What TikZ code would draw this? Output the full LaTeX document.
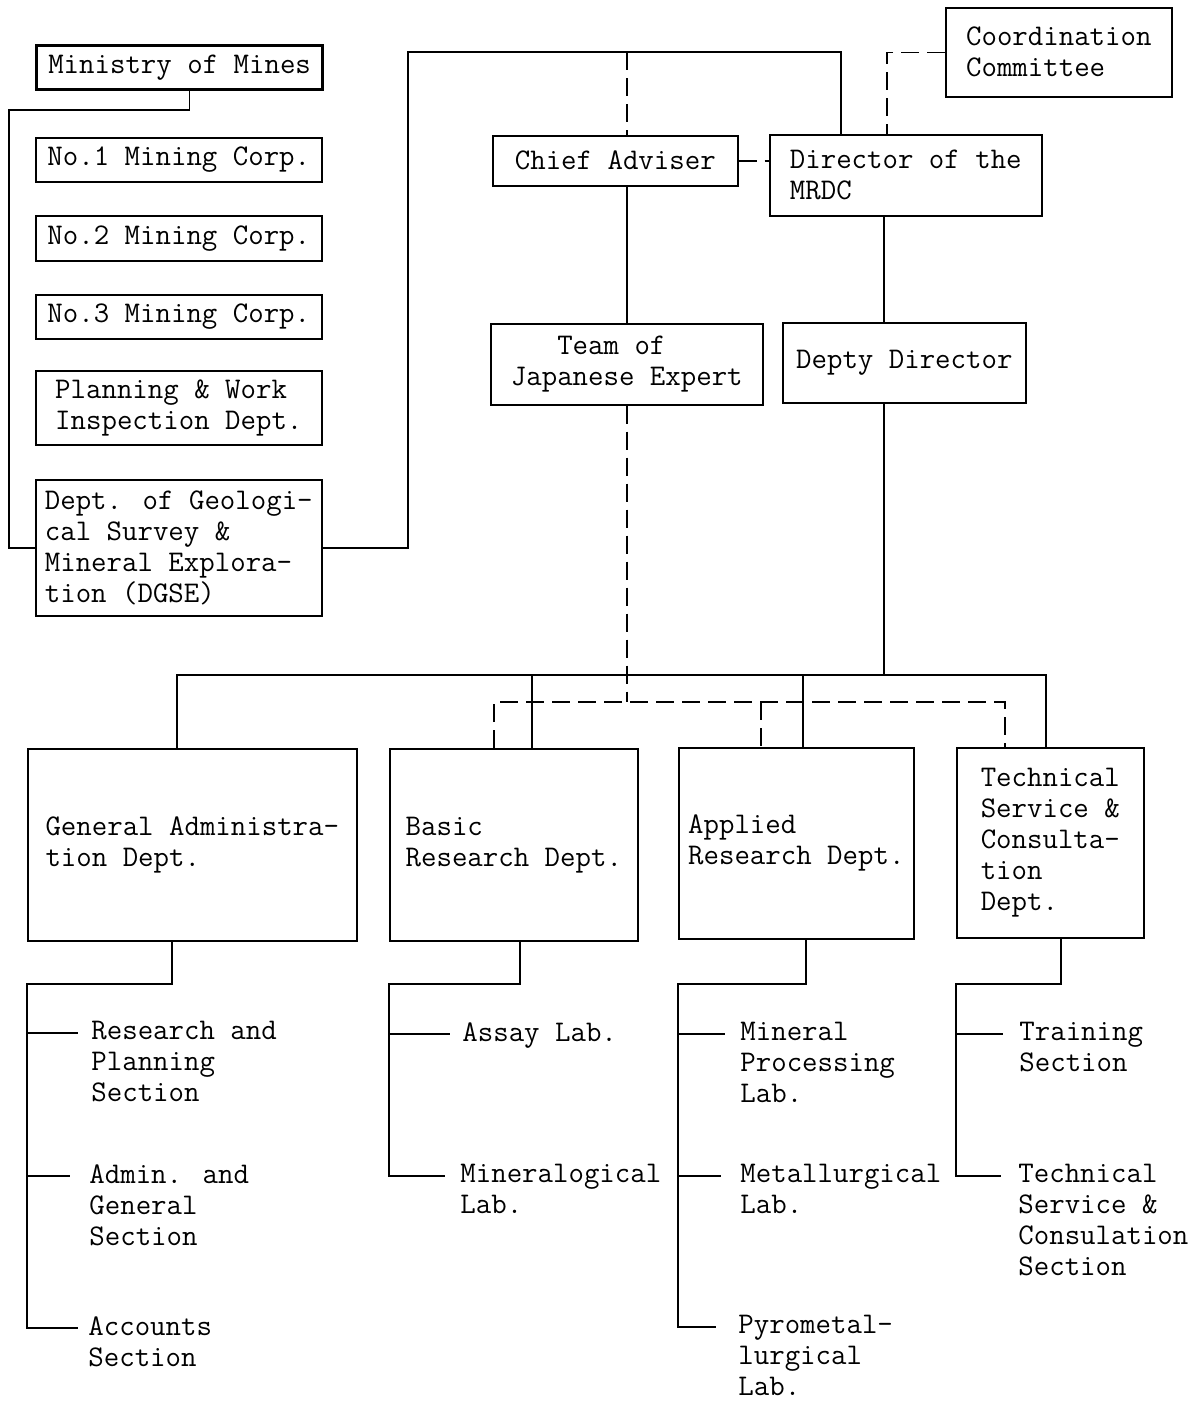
\documentclass[tikz,border=0pt]{standalone}
\usepackage{tikz}

\begin{document}
\begin{tikzpicture}[x=0.5pt,y=-0.5pt,
  every node/.style={font=\fontsize{15}{15.5}\selectfont\ttfamily},
  box/.style={draw, line width=0.8pt, anchor=north west, inner sep=2pt, align=left},
  sect/.style={anchor=north west, inner sep=0pt, align=left},
  link/.style={line width=0.8pt},
  dashline/.style={line width=0.8pt, dash pattern=on 9pt off 4pt}]
  \useasboundingbox (0,0) rectangle (1194,1403);

  % Ministerium
  \node[box, line width=1.6pt, minimum width=143pt, minimum height=22pt] (mines) at (35,44) {Ministry of Mines};
  \node[box, minimum width=143pt, minimum height=22pt] (corp1) at (35,137) {No.1 Mining Corp.};
  \node[box, minimum width=143pt, minimum height=22.5pt] (corp2) at (35,215) {No.2 Mining Corp.};
  \node[box, minimum width=143pt, minimum height=22pt] (corp3) at (35,294) {No.3 Mining Corp.};
  \node[box, minimum width=143pt, minimum height=37pt] (pwid) at (35,370) {Planning \& Work\\Inspection Dept.};
  \node[box, minimum width=143pt, minimum height=68pt] (dgse) at (35,479) {Dept. of Geologi-\\cal Survey \&\\Mineral Explora-\\tion (DGSE)};

  % Leitung
  \node[box, minimum width=122.5pt, minimum height=25pt] (chief) at (492,135) {Chief Adviser};
  \node[box, minimum width=136pt, minimum height=40.5pt] (dir) at (769,134) {Director of the\\MRDC};
  \node[box, minimum width=113pt, minimum height=44.5pt] (coord) at (945,7) {Coordination\\Committee};
  \node[box, minimum width=136pt, minimum height=40.5pt] (team) at (490,323) {\phantom{Jap}Team of\\Japanese Expert};
  \node[box, minimum width=121.5pt, minimum height=40pt] (depty) at (782,322) {Depty Director};

  % Abteilungen
  \node[box, minimum width=164.5pt, minimum height=96pt] (gad) at (27,748) {General Administra-\\tion Dept.};
  \node[box, minimum width=124pt, minimum height=96pt] (brd) at (389,748) {Basic\\Research Dept.};
  \node[box, minimum width=117.5pt, minimum height=95.5pt] (ard) at (678,747) {Applied\\Research Dept.};
  \node[box, minimum width=93.5pt, minimum height=95pt] (tscd) at (956,747) {Technical\\Service \&\\Consulta-\\tion\\Dept.};

  % Sektionen
  \node[sect] (rps) at (91,1021) {Research and\\Planning\\Section};
  \node[sect] (ags) at (89,1164) {Admin. and\\General\\Section};
  \node[sect] (acs) at (88,1316) {Accounts\\Section};
  \node[sect] (assay) at (462,1022) {Assay Lab.};
  \node[sect] (minlab) at (460,1164) {Mineralogical\\Lab.};
  \node[sect] (mpl) at (740,1022) {Mineral\\Processing\\Lab.};
  \node[sect] (metlab) at (740,1164) {Metallurgical\\Lab.};
  \node[sect] (pyro) at (738,1315) {Pyrometal-\\lurgical\\Lab.};
  \node[sect] (train) at (1019,1022) {Training\\Section};
  \node[sect] (tss) at (1018,1164) {Technical\\Service \&\\Consulation\\Section};

  % Knoten der Linien
  \coordinate (l-top) at (9,110);
  \coordinate (t-left) at (408,52);
  \coordinate (t-ca) at (627,52);
  \coordinate (t-dir) at (841,52);
  \coordinate (c-dir) at (887,134);
  \coordinate (spine) at (884,675);
  \coordinate (bar-l) at (177,675);
  \coordinate (bar-b) at (532,675);
  \coordinate (bar-a) at (803,675);
  \coordinate (bar-r) at (1046,675);
  \coordinate (dsh-l) at (494,702);
  \coordinate (dsh-m) at (761,702);
  \coordinate (dsh-r) at (1005,702);
  \coordinate (ga-drop) at (172,984);
  \coordinate (ga-sp) at (27,984);
  \coordinate (br-drop) at (520,984);
  \coordinate (br-sp) at (389,984);
  \coordinate (ar-drop) at (806,984);
  \coordinate (ar-sp) at (678,984);
  \coordinate (ts-drop) at (1061,984);
  \coordinate (ts-sp) at (956,984);

  % Anschlusspunkte der Sektionen (erste Zeile)
  \coordinate (rps-t) at ([yshift=-6pt]rps.north west);
  \coordinate (ags-t) at ([yshift=-6pt]ags.north west);
  \coordinate (acs-t) at ([yshift=-6pt]acs.north west);
  \coordinate (assay-t) at ([yshift=-6pt]assay.north west);
  \coordinate (minlab-t) at ([yshift=-6pt]minlab.north west);
  \coordinate (mpl-t) at ([yshift=-6pt]mpl.north west);
  \coordinate (metlab-t) at ([yshift=-6pt]metlab.north west);
  \coordinate (pyro-t) at ([yshift=-6pt]pyro.north west);
  \coordinate (train-t) at ([yshift=-6pt]train.north west);
  \coordinate (tss-t) at ([yshift=-6pt]tss.north west);

  % Verbindungen oben
  \draw[link] ([xshift=5pt]mines.south) |- (l-top) |- (dgse.west);
  \draw[link] (dgse.east) -| (t-left) -- (t-dir) -- (t-dir |- dir.north);
  \draw[dashline] (t-ca) -- (t-ca |- chief.north);
  \draw[dashline] (chief.east) -- (chief.east -| dir.west);
  \draw[dashline] (coord.west) -| (c-dir);
  \draw[link] (team.north |- chief.south) -- (team.north);
  \draw[link] (spine |- dir.south) -- (spine |- depty.north);
  \draw[link] (spine |- depty.south) -- (spine);

  % Verbindungen Abteilungen
  \draw[link] (bar-l |- gad.north) -- (bar-l) -- (bar-r) -- (bar-r |- tscd.north);
  \draw[link] (bar-b) -- (bar-b |- brd.north);
  \draw[link] (bar-a) -- (bar-a |- ard.north);
  \draw[dashline] (team.south) -- (team.south |- dsh-l);
  \draw[dashline] (dsh-l |- brd.north) -- (dsh-l) -- (dsh-r) -- (dsh-r |- tscd.north);
  \draw[dashline] (dsh-m) -- (dsh-m |- ard.north);

  % Verbindungen Sektionen
  \draw[link] (ga-drop |- gad.south) -- (ga-drop) -- (ga-sp) |- ([xshift=-5pt]acs-t);
  \draw[link] (ga-sp |- rps-t) -- ([xshift=-6.5pt]rps-t);
  \draw[link] (ga-sp |- ags-t) -- ([xshift=-9.5pt]ags-t);
  \draw[link] (br-drop |- brd.south) -- (br-drop) -- (br-sp) |- ([xshift=-7.5pt]minlab-t);
  \draw[link] (br-sp |- assay-t) -- ([xshift=-6pt]assay-t);
  \draw[link] (ar-drop |- ard.south) -- (ar-drop) -- (ar-sp) |- ([xshift=-11pt]pyro-t);
  \draw[link] (ar-sp |- mpl-t) -- ([xshift=-7.5pt]mpl-t);
  \draw[link] (ar-sp |- metlab-t) -- ([xshift=-9.5pt]metlab-t);
  \draw[link] (ts-drop |- tscd.south) -- (ts-drop) -- (ts-sp) |- ([xshift=-8.5pt]tss-t);
  \draw[link] (ts-sp |- train-t) -- ([xshift=-8pt]train-t);

\end{tikzpicture}
\end{document}
